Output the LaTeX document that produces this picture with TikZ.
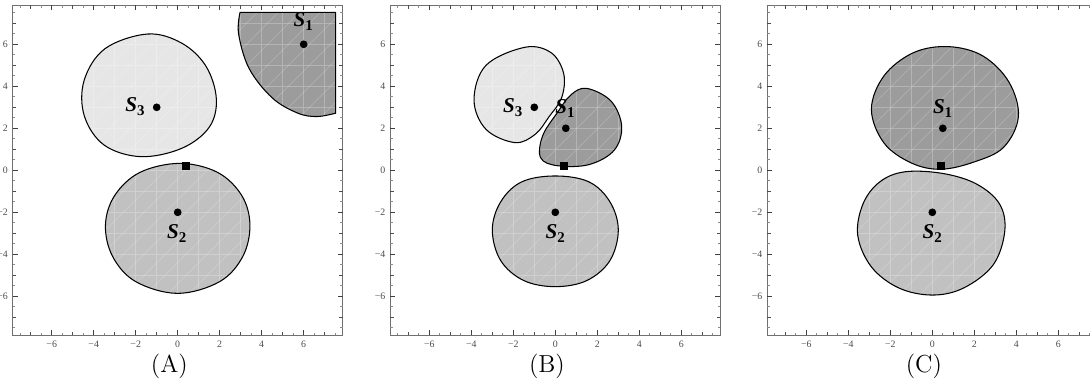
\documentclass[tikz,border=0pt]{standalone}
\usepackage{fontspec}
\newfontfamily\timesfont{Liberation Serif}
\usetikzlibrary{calc}

\definecolor{lightfill}{HTML}{E6E6E6}
\definecolor{midfill}{HTML}{C1C1C1}
\definecolor{darkfill}{HTML}{9C9C9C}
\definecolor{framegray}{HTML}{707070}
\definecolor{ticklabel}{HTML}{4A4A4A}

\newcommand{\slab}[1]{S\raisebox{-0.45ex}{\upshape\fontsize{8.5}{9}\selectfont #1}}

\begin{document}
\begin{tikzpicture}[
      meshline/.style={white, opacity=0.25, line width=0.3pt},
      blob/.style={draw=black, line width=0.6pt, path picture={
          \draw[meshline, step=0.42cm] (path picture bounding box.south west) grid (path picture bounding box.north east);
          \foreach \k in {-14,...,14}
            \draw[meshline] ($(path picture bounding box.south west)+(\k*0.42cm,0)$) -- ++(6cm,6cm);
      }},
      lightblob/.style={blob, fill=lightfill},
      midblob/.style={blob, fill=midfill},
      darkblob/.style={blob, fill=darkfill},
      dot/.style={circle, fill=black, inner sep=0pt, minimum size=0.155cm},
      sq/.style={rectangle, fill=black, inner sep=0pt, minimum size=0.16cm},
      slabel/.style={font=\timesfont\bfseries\itshape\fontsize{12}{13}\selectfont, inner sep=0pt},
      ticklab/.style={font=\timesfont\fontsize{5.6}{6}\selectfont, text=ticklabel, inner sep=1pt},
      panellabel/.style={font=\fontsize{14}{16}\selectfont, inner sep=0pt},
      tickeven/.style={black!75, line width=0.4pt},
      tickodd/.style={black!70, line width=0.4pt},
      tickhalf/.style={black!45, line width=0.4pt}
  ]
      \useasboundingbox (0,0) rectangle (21.8,-7.76);

      % Frames, ticks and panel labels
      \foreach \ox/\name/\lab in {3.554/A/(A), 11.106/B/(B), 18.646/C/(C)} {
        \begin{scope}[shift={(\ox cm,-3.406cm)}, x=0.42cm, y=0.42cm]
          \draw[framegray, line width=0.5pt] (-7.85,-7.85) rectangle (7.85,7.85);
          \foreach \t in {-7.5,-6.5,...,7.5}
            \draw[tickhalf] (\t,-7.85) -- ++(0,0.045cm) (\t,7.85) -- ++(0,-0.045cm)
              (-7.85,\t) -- ++(0.045cm,0) (7.85,\t) -- ++(-0.045cm,0);
          \foreach \t in {-7,-5,...,7}
            \draw[tickodd] (\t,-7.85) -- ++(0,0.065cm) (\t,7.85) -- ++(0,-0.065cm)
              (-7.85,\t) -- ++(0.065cm,0) (7.85,\t) -- ++(-0.065cm,0);
          \foreach \t/\s/\i in {-6/−6/1, -4/−4/2, -2/−2/3, 0/0/4, 2/2/5, 4/4/6, 6/6/7} {
            \draw[tickeven] (\t,-7.85) -- ++(0,0.1cm) (\t,7.85) -- ++(0,-0.1cm)
              (-7.85,\t) -- ++(0.1cm,0) (7.85,\t) -- ++(-0.1cm,0);
            \node[ticklab, anchor=north, yshift=-0.08cm] (xl\name\i) at (\t,-7.85) {\s};
            \node[ticklab, anchor=east, xshift=-0.06cm] (yl\name\i) at (-7.85,\t) {\s};
          }
          \node[panellabel] (lab\name) at (-0.4,-9.35) {\lab};
        \end{scope}
      }

      % Panel A
      \begin{scope}[shift={(3.554cm,-3.406cm)}, x=0.42cm, y=0.42cm]
        \draw[lightblob] plot[smooth cycle, tension=0.6] coordinates {(-1.43,6.49) (0.2,6.05) (1.35,4.95) (1.84,3.4) (1.5,2.05)
          (0.2,1.05) (-1.75,0.65) (-3.5,1.2) (-4.45,2.6) (-4.45,4.3) (-3.45,5.8)};
        \draw[midblob] plot[smooth cycle, tension=0.6] coordinates {(0.1,0.33) (1.9,-0.1) (3.05,-1.2) (3.44,-2.6) (3.1,-4.1)
          (2.0,-5.3) (0,-5.86) (-2.0,-5.3) (-3.1,-4.1) (-3.44,-2.6) (-3.0,-1.2) (-1.8,-0.1)};
        \draw[darkblob] (7.52,7.52) -- plot[smooth, tension=0.6] coordinates {(2.97,7.52) (2.9,6.5) (3.4,4.85) (4.5,3.45)
          (5.7,2.73) (6.62,2.56) (7.52,2.72)} -- cycle;
        \node[dot] (pA1) at (6,6) {};
        \node[dot] (pA2) at (0,-2) {};
        \node[dot] (pA3) at (-1,3) {};
        \node[sq] (qA) at (0.4,0.2) {};
        \node[slabel] (sA1) at (5.98,7.08) {\slab{1}};
        \node[slabel] (sA2) at (-0.05,-3.0) {\slab{2}};
        \node[slabel] (sA3) at (-2.03,3.03) {\slab{3}};
      \end{scope}

      % Panel B
      \begin{scope}[shift={(11.106cm,-3.406cm)}, x=0.42cm, y=0.42cm]
        \draw[lightblob] plot[smooth cycle, tension=0.6] coordinates {(-1.44,5.86) (-0.2,5.6) (0.4,4.6) (0.3,3.45)
          (-0.3,2.55) (-0.95,1.72) (-1.92,1.32) (-3.3,1.95) (-3.87,3.35) (-3.3,5.0)};
        \draw[darkblob] plot[smooth cycle, tension=0.6] coordinates {(1.5,3.9) (2.65,3.3) (3.16,2.1) (2.8,0.95)
          (1.6,0.27) (0.1,0.22) (-0.7,0.6) (-0.6,1.65) (0.1,2.75) (0.75,3.6)};
        \draw[midblob] plot[smooth cycle, tension=0.6] coordinates {(0,-0.27) (1.6,-0.55) (2.6,-1.5) (3.0,-2.84) (2.6,-4.3)
          (1.5,-5.25) (0,-5.54) (-1.5,-5.25) (-2.6,-4.3) (-3.0,-2.84) (-2.6,-1.5) (-1.6,-0.55)};
        \node[dot] (pB1) at (0.5,2) {};
        \node[dot] (pB2) at (0,-2) {};
        \node[dot] (pB3) at (-1,3) {};
        \node[sq] (qB) at (0.4,0.2) {};
        \node[slabel] (sB1) at (0.46,2.95) {\slab{1}};
        \node[slabel] (sB2) at (0,-3.0) {\slab{2}};
        \node[slabel] (sB3) at (-2.03,3.0) {\slab{3}};
      \end{scope}

      % Panel C
      \begin{scope}[shift={(18.646cm,-3.406cm)}, x=0.42cm, y=0.42cm]
        \draw[darkblob] plot[smooth cycle, tension=0.6] coordinates {(0.76,5.89) (2.4,5.45) (3.65,4.2) (4.1,2.56) (3.4,1.1)
          (2.0,0.4) (0.4,0.05) (-1.0,0.35) (-2.3,1.3) (-2.9,2.9) (-2.3,4.5) (-0.9,5.6)};
        \draw[midblob] plot[smooth cycle, tension=0.6] coordinates {(-1.3,-0.07) (0.5,-0.15) (2.1,-0.65) (3.2,-1.6) (3.45,-2.9)
          (2.9,-4.5) (1.5,-5.6) (0,-5.94) (-1.6,-5.6) (-2.9,-4.6) (-3.55,-3.1) (-3.3,-1.6) (-2.5,-0.55)};
        \node[dot] (pC1) at (0.5,2) {};
        \node[dot] (pC2) at (0,-2) {};
        \node[sq] (qC) at (0.4,0.2) {};
        \node[slabel] (sC1) at (0.49,2.95) {\slab{1}};
        \node[slabel] (sC2) at (0,-3.0) {\slab{2}};
      \end{scope}
  \end{tikzpicture}
\end{document}
